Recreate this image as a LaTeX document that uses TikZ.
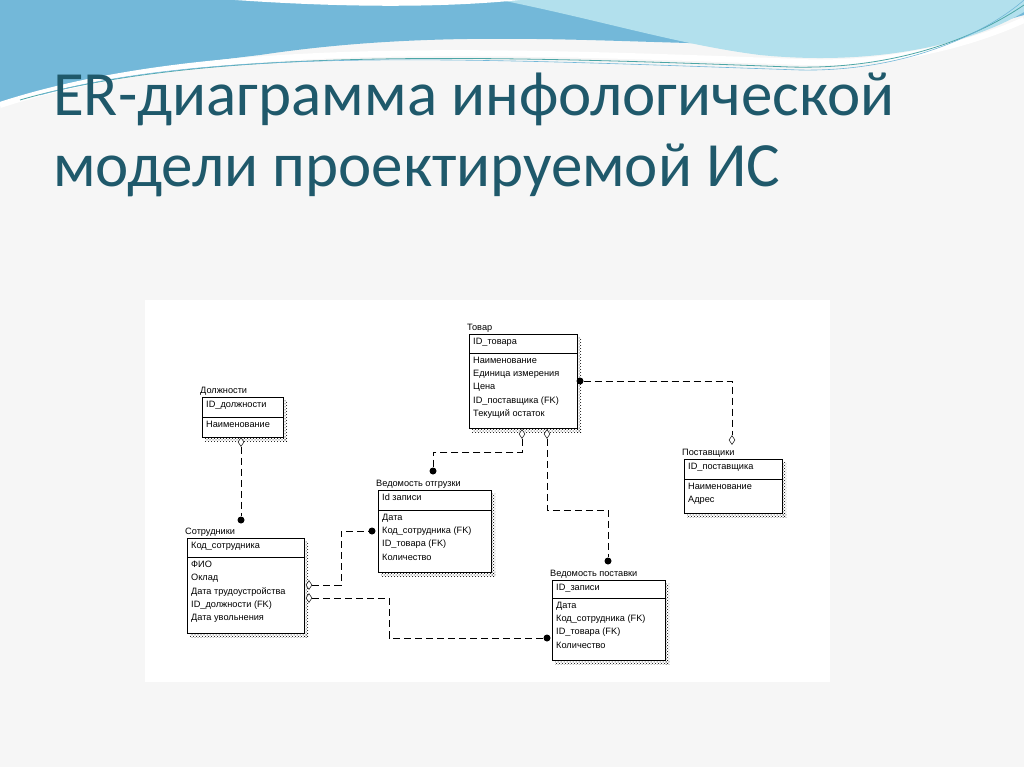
\documentclass[tikz,border=0pt]{standalone}
\usepackage{fontspec}
\setmainfont{Liberation Sans}
\newfontfamily\titlefont{Carlito}
\usetikzlibrary{patterns,shapes.geometric}
\definecolor{title teal}{rgb}{0.12, 0.35, 0.42}
\definecolor{wave blue}{rgb}{0.45, 0.72, 0.85}
\definecolor{wave light}{rgb}{0.70, 0.88, 0.93}
\definecolor{slide gray}{rgb}{0.965, 0.965, 0.965}
\tikzset{
  boxline/.style={draw=black, line width=0.7pt},
  boxtext/.style={inner sep=0pt, anchor=north west, align=left, font=\fontsize{9.2}{13.2}\selectfont},
  linkline/.style={line width=0.9pt, dash pattern=on 7pt off 4pt},
  fkdot/.style={circle, fill=black, inner sep=0pt, minimum size=7pt},
  pkmark/.style={diamond, draw=black, fill=white, inner sep=0pt, minimum width=6pt, minimum height=9pt, line width=0.5pt}
}
% entity: name, x1, y1, x2, y2, divider, label, key, attributes
\newcommand{\entity}[9]{
  \fill[pattern=crosshatch dots, pattern color=black] (#4,#3+3) rectangle (#4+4,#5+4);
  \fill[pattern=crosshatch dots, pattern color=black] (#2+3,#5) rectangle (#4+4,#5+4);
  \draw[boxline, fill=white] (#2,#3) rectangle (#4,#5);
  \draw[boxline] (#2,#6) -- (#4,#6);
  \coordinate (#1-nw) at (#2,#3);
  \coordinate (#1-se) at (#4,#5);
  \node[boxtext, anchor=south west] (#1-lab) at (#2-2,#3-1) {#7};
  \node[boxtext] (#1-key) at (#2+4,#3+4) {#8};
  \node[boxtext] (#1-att) at (#2+4,#6+4) {#9};
}
\begin{document}
\begin{tikzpicture}[x=1pt, y=-1pt]
  \useasboundingbox (0,0) rectangle (1024,767);
  % background and waves
  \fill[slide gray] (0,0) rectangle (1024,767);
  \fill[white] (145,300) rectangle (830,682);
  \fill[wave blue] (0,0) -- (1024,0) -- (1024,15) .. controls (800,80) and (560,10) .. (260,55)
    .. controls (130,70) and (40,90) .. (0,105) -- cycle;
  \fill[wave light] (500,0) -- (1024,0) -- (1024,12) .. controls (960,50) and (860,65) .. (760,55)
    .. controls (680,45) and (600,20) .. (500,0);
  \fill[white] (235,0) .. controls (380,10) and (470,5) .. (520,0) -- cycle;
  \draw[white, line width=6pt] (0,105) .. controls (200,40) and (480,50) .. (800,62) .. controls (900,66) and (980,40) .. (1024,20);
  \draw[teal!70, line width=0.8pt] (20,100) .. controls (200,48) and (480,55) .. (790,67) .. controls (900,70) and (980,35) .. (1024,5);
  \draw[wave blue, line width=0.6pt] (40,95) .. controls (220,45) and (500,60) .. (800,70) .. controls (910,72) and (990,30) .. (1024,0);
  % title
  \node[anchor=base west, inner sep=0pt, text=title teal, font=\titlefont\fontsize{63}{70}\selectfont] (title1) at (53,116) {ER-диаграмма инфологической};
  \node[anchor=base west, inner sep=0pt, text=title teal, font=\titlefont\fontsize{63}{70}\selectfont] (title2) at (53,187) {модели проектируемой ИС};
  % entities
  \entity{tovar}{469}{334}{577}{428}{353}{Товар}{ID\_товара}{Наименование\\Единица измерения\\Цена\\ID\_поставщика (FK)\\Текущий остаток}
  \entity{dolzh}{202}{397}{283}{437}{417}{Должности}{ID\_должности}{Наименование}
  \entity{post}{684}{459}{782}{513}{479}{Поставщики}{ID\_поставщика}{Наименование\\Адрес}
  \entity{otgr}{378}{490}{491}{572}{510}{Ведомость отгрузки}{Id записи}{Дата\\Код\_сотрудника (FK)\\ID\_товара (FK)\\Количество}
  \entity{sotr}{187}{538}{304}{633}{557}{Сотрудники}{Код\_сотрудника}{ФИО\\Оклад\\Дата трудоустройства\\ID\_должности (FK)\\Дата увольнения}
  \entity{vpost}{552}{580}{665}{660}{598}{Ведомость поставки}{ID\_записи}{Дата\\Код\_сотрудника (FK)\\ID\_товара (FK)\\Количество}
  % link end points
  \node[pkmark] (d1) at (241,442) {};
  \node[fkdot] (f1) at (241,520) {};
  \node[pkmark] (d2) at (522,434) {};
  \node[fkdot] (f2) at (433,471) {};
  \node[pkmark] (d3) at (547,434) {};
  \node[fkdot] (f3) at (608,561) {};
  \node[fkdot] (f4) at (580,381) {};
  \node[pkmark] (d4) at (732,440) {};
  \node[pkmark, shape border rotate=90] (d5) at (309,585) {};
  \node[fkdot] (f5) at (372,531) {};
  \node[pkmark, shape border rotate=90] (d6) at (309,598) {};
  \node[fkdot] (f6) at (547,638) {};
  % links
  \draw[linkline] (d1) -- (f1);
  \draw[linkline] (d2) |- (433,452) -- (f2);
  \draw[linkline] (d3) |- (608,510) -- (f3);
  \draw[linkline] (f4) -| (d4);
  \draw[linkline] (d5) -- (341,585) |- (f5);
  \draw[linkline] (d6) -- (389,598) |- (f6);
\end{tikzpicture}
\end{document}
